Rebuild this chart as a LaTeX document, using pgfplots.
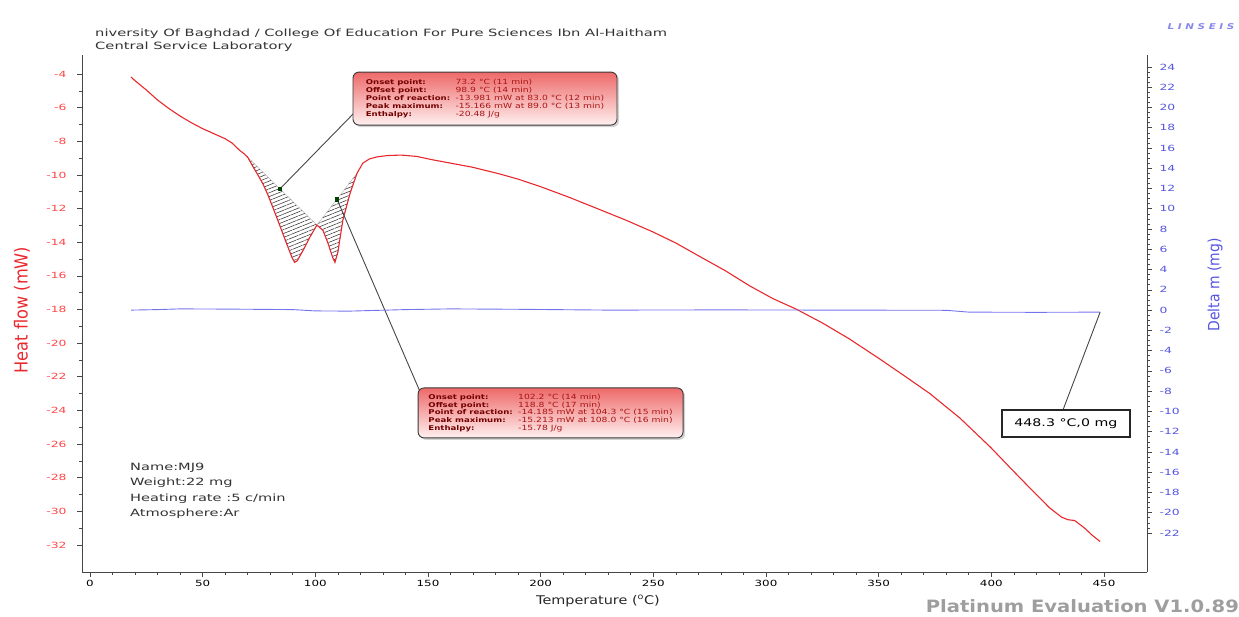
\documentclass[border=0pt]{standalone}
\usepackage{fontspec}
\setmainfont{DejaVu Sans}
\newfontfamily\condfont{DejaVu Sans Condensed}
\usepackage{graphicx}
\usepackage{pgfplots}
\usepackage{pgfplotstable}
\pgfplotsset{compat=1.18}
\usetikzlibrary{patterns.meta,shadows}

\definecolor{dscred}{RGB}{232,40,45}
\definecolor{tgblue}{RGB}{115,115,235}
\definecolor{lbl}{RGB}{255,70,70}
\definecolor{rbl}{RGB}{85,85,225}
\definecolor{axgray}{RGB}{70,70,70}
\definecolor{boxtop}{RGB}{238,105,105}
\definecolor{boxbot}{RGB}{255,240,240}
\definecolor{boxlab}{RGB}{115,0,0}
\definecolor{boxval}{RGB}{170,20,20}
\newcommand{\hs}[1]{\scalebox{1.3}[1]{#1}}
\newcommand{\hsx}[2]{\scalebox{#1}[1]{#2}}

\pgfplotstableread{
T Q
18.2 -4.18
20 -4.40
25 -4.95
30 -5.55
35 -6.05
40 -6.50
45 -6.90
50 -7.25
55 -7.55
60 -7.85
63 -8.10
66.5 -8.55
68.5 -8.75
70 -8.95
72.3 -9.50
74.5 -10.00
76.8 -10.55
79 -11.20
81.2 -11.95
83.5 -12.75
85.6 -13.50
87.6 -14.20
89.6 -14.90
90.8 -15.20
92 -15.10
94.5 -14.50
97.6 -13.70
100.7 -12.98
103.4 -13.30
105.6 -14.05
107.8 -14.95
108.7 -15.20
110 -14.60
112.2 -12.70
115.4 -11.10
118.5 -9.90
121.1 -9.30
124 -9.05
127.3 -8.93
132 -8.85
138 -8.82
145 -8.90
152 -9.10
160 -9.30
170 -9.55
182 -9.95
190 -10.25
200 -10.70
213 -11.35
226 -12.05
238 -12.70
250 -13.40
260 -14.05
270.6 -14.85
282 -15.70
292.8 -16.60
303 -17.35
313.7 -18.00
325 -18.80
337 -19.75
350 -20.90
362 -22.00
372.7 -23.00
386 -24.45
399.7 -26.20
409 -27.50
417 -28.60
425.9 -29.80
431.2 -30.35
434 -30.50
437 -30.55
441.4 -31.00
445 -31.45
448.3 -31.80
}\dsc

\pgfplotstableread{
T Q
70 -8.95
72.3 -9.50
74.5 -10.00
76.8 -10.55
79 -11.20
81.2 -11.95
83.5 -12.75
85.6 -13.50
87.6 -14.20
89.6 -14.90
90.8 -15.20
92 -15.10
94.5 -14.50
97.6 -13.70
100.7 -12.98
}\peakA

\pgfplotstableread{
T Q
100.7 -12.98
103.4 -13.30
105.6 -14.05
107.8 -14.95
108.7 -15.20
110 -14.60
112.2 -12.70
115.4 -11.10
118.5 -9.90
}\peakB

\pgfplotstableread{
T m
18.2 0.00
30 0.05
40 0.12
60 0.10
90 0.05
100 -0.08
115 -0.10
140 0.05
160 0.12
190 0.08
230 0.00
280 0.02
330 0.00
380 -0.02
390 -0.20
420 -0.22
448.3 -0.20
}\tg

\tikzset{
 infobox/.style={draw=gray!45!black, line width=0.9pt, rounded corners=6pt,
   top color=boxtop, bottom color=boxbot,
   drop shadow={opacity=0.35, shadow xshift=2pt, shadow yshift=-2pt},
   inner sep=0pt, align=left},
}
\newcommand{\bv}[1]{{\fontsize{7.1}{9.6}\selectfont\color{boxval}#1}}
\newcommand{\boxtab}[5]{%
 \hs{\fontsize{6.6}{9.6}\selectfont
 \begin{tabular}{@{}p{69pt}@{}l@{}}
 \textbf{\color{boxlab}Onset point:} & \bv{#1}\\[-1.8pt]
 \textbf{\color{boxlab}Offset point:} & \bv{#2}\\[-1.8pt]
 \textbf{\color{boxlab}Point of reaction:} & \bv{#3}\\[-1.8pt]
 \textbf{\color{boxlab}Peak maximum:} & \bv{#4}\\[-1.8pt]
 \textbf{\color{boxlab}Enthalpy:} & \bv{#5}
 \end{tabular}}}

\begin{document}
\begin{tikzpicture}
\path[use as bounding box] (0,0) rectangle (1239pt,616pt);

\begin{axis}[
 at={(82pt,44pt)}, anchor=south west, scale only axis,
 width=1065pt, height=517pt,
 xmin=-3.55, xmax=469.1, ymin=-33.61, ymax=-2.87,
 axis x line*=bottom, axis y line*=left,
 axis line style={axgray, line width=0.8pt},
 xtick={0,50,...,450}, ytick={-32,-30,...,-4},
 minor x tick num=4, minor y tick num=1,
 tick align=outside, major tick length=5pt, minor tick length=3pt,
 tick style={axgray, line width=0.6pt},
 /pgf/number format/assume math mode=true,
 xticklabel={\hsx{1.4}{\pgfmathprintnumber{\tick}}},
 yticklabel={\hsx{1.45}{\pgfmathprintnumber{\tick}}},
 xticklabel style={black, font=\fontsize{8.5}{9}\selectfont},
 yticklabel style={lbl, font=\fontsize{8.5}{9}\selectfont, xshift=-7pt},
 clip=false,
]
\addplot[draw=gray!70, line width=0.3pt, pattern={Lines[angle=22,distance=3.6pt,line width=0.55pt]}, pattern color=black!80]
  table[x=T,y=Q]{\peakA} -- cycle;
\addplot[draw=gray!70, line width=0.3pt, pattern={Lines[angle=22,distance=3.6pt,line width=0.55pt]}, pattern color=black!80]
  table[x=T,y=Q]{\peakB} -- cycle;
\addplot[dscred, line width=1.1pt, mark=none] table[x=T,y=Q]{\dsc};

\draw[axgray, line width=0.9pt] (axis cs:117.6,-6.26) -- (axis cs:84.3,-10.83);
\draw[axgray, line width=0.9pt] (axis cs:146.5,-22.9) -- (axis cs:109.6,-11.44);
\addplot[only marks, mark=square*, mark size=1.7pt, color=black!75!green] coordinates {(84.3,-10.83) (109.6,-11.44)};

\node[infobox, minimum width=264pt, minimum height=53pt] at (axis cs:175.3,-5.46)
 {\boxtab{73.2 °C (11 min)}{98.9 °C (14 min)}{-13.981 mW at 83.0 °C (12 min)}{-15.166 mW at 89.0 °C (13 min)}{-20.48 J/g}};
\node[infobox, minimum width=265pt, minimum height=50pt] at (axis cs:204.4,-24.15)
 {\boxtab{102.2 °C (14 min)}{118.8 °C (17 min)}{-14.185 mW at 104.3 °C (15 min)}{-15.213 mW at 108.0 °C (16 min)}{-15.78 J/g}};
\end{axis}

\begin{axis}[
 at={(82pt,44pt)}, anchor=south west, scale only axis,
 width=1065pt, height=517pt,
 xmin=-3.55, xmax=469.1, ymin=-25.85, ymax=25.18,
 axis x line=none, axis y line*=right,
 axis line style={axgray, line width=0.8pt},
 ytick={-22,-20,...,24}, minor y tick num=3,
 tick align=outside, major tick length=5pt, minor tick length=3pt,
 tick style={axgray, line width=0.6pt},
 /pgf/number format/assume math mode=true,
 yticklabel={\hsx{1.45}{\pgfmathprintnumber{\tick}}},
 yticklabel style={rbl, font=\fontsize{8.5}{9}\selectfont, xshift=4pt},
 clip=false,
]
\addplot[tgblue, line width=0.9pt, mark=none] table[x=T,y=m]{\tg};
\draw[axgray, line width=0.9pt] (axis cs:431.8,-9.86) -- (axis cs:448.3,-0.20);
\node[draw=black!85, line width=1.3pt, fill=white, minimum width=128pt, minimum height=27pt,
  drop shadow={opacity=0.25, shadow xshift=1.5pt, shadow yshift=-1.5pt}] at (axis cs:433.1,-11.19)
  {\hsx{1.35}{\fontsize{10.5}{12}\selectfont 448.3 °C,0 mg}};
\end{axis}

% texts outside the axes
\node[anchor=north west, align=left, text=black!80, font=\fontsize{10}{12.5}\selectfont, inner sep=0pt] at (95pt,587pt)
 {\hsx{1.47}{niversity Of Baghdad / College Of Education For Pure Sciences Ibn Al-Haitham}\\\hsx{1.47}{Central Service Laboratory}};
\node[anchor=east, text=rbl!70, font=\itshape\bfseries\fontsize{8}{9}\selectfont] at (1238pt,589pt) {\hs{L I N S E I S}};
\node[anchor=north west, align=left, text=black!80, font=\fontsize{10}{15.3}\selectfont, inner sep=0pt] at (130pt,153pt)
 {\hsx{1.46}{Name:MJ9}\\\hsx{1.46}{Weight:22 mg}\\\hsx{1.46}{Heating rate :5 c/min}\\\hsx{1.46}{Atmosphere:Ar}};
\node[rotate=90, text=dscred, font=\condfont\fontsize{18}{20}\selectfont] at (22pt,306pt) {Heat flow (mW)};
\node[rotate=90, text=rbl, font=\condfont\fontsize{15.5}{18}\selectfont] at (1215pt,331pt) {Delta m (mg)};
\node[text=black!85, font=\fontsize{12}{14}\selectfont] at (598pt,15pt) {\hsx{1.2}{Temperature (\textsuperscript{o}C)}};
\node[anchor=south east, text=black!38, font=\bfseries\fontsize{17}{19}\selectfont, inner sep=0pt] at (1239pt,3pt) {\hsx{1.15}{Platinum Evaluation V1.0.89}};
\end{tikzpicture}
\end{document}
